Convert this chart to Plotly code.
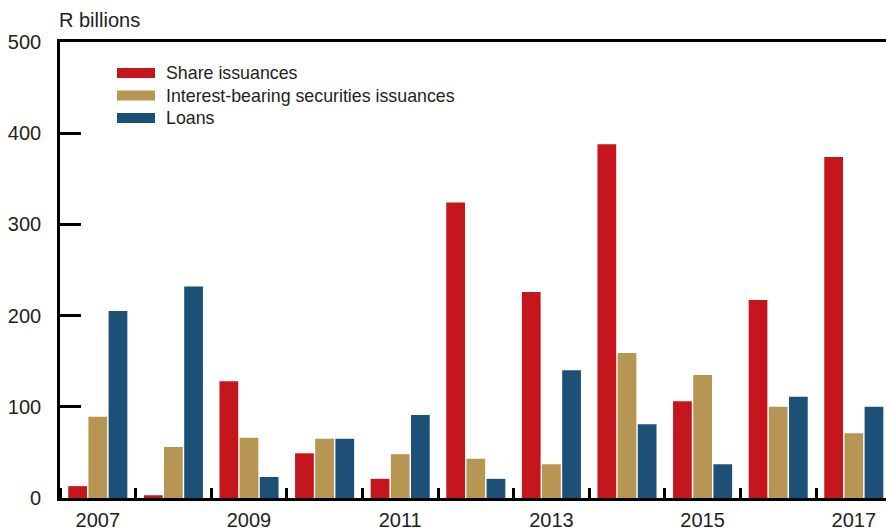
import plotly.graph_objects as go

years = [2007, 2008, 2009, 2010, 2011, 2012, 2013, 2014, 2015, 2016, 2017]
share_issuances = [13, 3, 128, 49, 21, 324, 226, 388, 106, 217, 374]
interest_bearing = [89, 56, 66, 65, 48, 43, 37, 159, 135, 100, 71]
loans = [205, 232, 23, 65, 91, 21, 140, 81, 37, 111, 100]

series_names = ["Share issuances", "Interest-bearing securities issuances", "Loans"]
series_values = [share_issuances, interest_bearing, loans]
colors = ["#C4161C", "#B79552", "#1C5077"]

y_ticks = [0, 100, 200, 300, 400, 500]
x_label_years = [2007, 2009, 2011, 2013, 2015, 2017]

W, H = 886, 531
ML, MR, MT, MB = 60, 0, 42, 33
PW, PH = W - ML - MR, H - MT - MB

FONT = "Liberation Sans, Arial, sans-serif"
TXT = "#231f20"

fig = go.Figure()
for name, vals, c in zip(series_names, series_values, colors):
    fig.add_trace(go.Bar(x=years, y=vals, name=name, marker=dict(color=c, line=dict(width=0)),
                         showlegend=False))

# x-range: one year per 75.6 px group, plot cut at window edge
group_px = 75.6
x0 = years[0] - 0.5
x1 = x0 + PW / group_px

fig.update_layout(
    width=W, height=H,
    margin=dict(l=ML, r=MR, t=MT, b=MB, pad=0, autoexpand=False),
    paper_bgcolor="white", plot_bgcolor="white",
    barmode="group", bargap=0.2, bargroupgap=0.07,
    font=dict(family=FONT, color=TXT, size=20),
    xaxis=dict(
        range=[x0, x1], showgrid=False, zeroline=False, automargin=False,
        showline=True, linecolor="black", linewidth=2.6, mirror=True,
        tickmode="array", tickvals=x_label_years, ticktext=[str(v) for v in x_label_years],
        ticks="", tickfont=dict(size=20, color=TXT), ticklabelstandoff=2,
        minor=dict(tick0=x0, dtick=1, ticks="inside", ticklen=10, tickwidth=2.6,
                   tickcolor="black", showgrid=False),
        fixedrange=True,
    ),
    yaxis=dict(
        range=[0, 500], showgrid=False, zeroline=False, automargin=False,
        showline=True, linecolor="black", linewidth=2.6,
        tickmode="array", tickvals=y_ticks, ticks="inside", ticklen=21, tickwidth=2.6,
        tickcolor="black", tickfont=dict(size=20, color=TXT), ticklabelstandoff=12,
        fixedrange=True,
    ),
)

def px_x(px):
    return (px - ML) / PW

def px_y(py):
    return (H - MB - py) / PH

# Unit label
fig.add_annotation(text="R billions", xref="paper", yref="paper", x=px_x(57), y=px_y(20),
                   xanchor="left", yanchor="middle", showarrow=False,
                   font=dict(size=20, color=TXT, family=FONT))

# Legend built from swatches + text
legend_rows = [73, 95.5, 118]
for name, c, cy in zip(series_names, colors, legend_rows):
    fig.add_shape(type="rect", xref="paper", yref="paper",
                  x0=px_x(117), x1=px_x(155), y0=px_y(cy - 5), y1=px_y(cy + 5),
                  fillcolor=c, line=dict(width=0))
    fig.add_annotation(text=name, xref="paper", yref="paper", x=px_x(164), y=px_y(cy),
                       xanchor="left", yanchor="middle", showarrow=False,
                       font=dict(size=17.8, color=TXT, family=FONT))

fig.write_html("out.html", config={"displayModeBar": False},
               post_script="document.body.style.margin='0';document.body.style.overflow='hidden';")
